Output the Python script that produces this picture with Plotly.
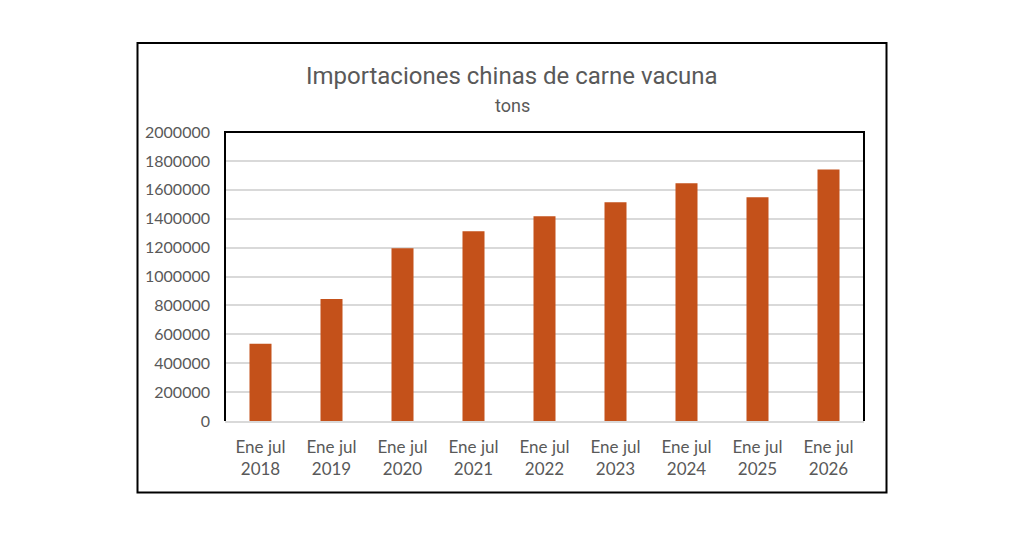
import plotly.graph_objects as go

categories = ["Ene jul<br>2018", "Ene jul<br>2019", "Ene jul<br>2020", "Ene jul<br>2021",
              "Ene jul<br>2022", "Ene jul<br>2023", "Ene jul<br>2024", "Ene jul<br>2025",
              "Ene jul<br>2026"]
values = [534000, 845000, 1196000, 1314000, 1417000, 1514000, 1645000, 1548000, 1741000]
y_ticks = [0, 200000, 400000, 600000, 800000, 1000000, 1200000, 1400000, 1600000, 1800000, 2000000]

TEXT = "#595959"
BAR = "#C4511A"
GRID = "#D9D9D9"
TICKFONT = "Lato, Open Sans, sans-serif"
TITLEFONT = "Liberation Sans Narrow, Arial Narrow, Roboto, sans-serif"

W, H = 1024, 535
OFF = 8  # page body margin
L, R, T, B = 225 - OFF, 864 - OFF, 132 - OFF, 421 - OFF
pw, ph = R - L, B - T

def px(x):
    return (x - OFF - L) / pw

def py(y):
    return (B - (y - OFF)) / ph

fig = go.Figure(go.Bar(x=categories, y=values, marker=dict(color=BAR, line=dict(width=0))))

fig.update_layout(
    width=W, height=H,
    margin=dict(l=L, r=W - R, t=T, b=H - B, pad=0),
    paper_bgcolor="white", plot_bgcolor="white",
    bargap=0.69,
    showlegend=False,
    xaxis=dict(
        showgrid=False, showline=True, linecolor=GRID, linewidth=1.5,
        ticks="", tickfont=dict(family=TICKFONT, size=17, color=TEXT),
        ticklabelstandoff=10, zeroline=False,
    ),
    yaxis=dict(
        range=[0, 2000000], tickvals=y_ticks, tickformat="d",
        showgrid=True, gridcolor=GRID, gridwidth=1.5,
        showline=False, zeroline=False, ticks="",
        tickfont=dict(family=TICKFONT, size=16, color=TEXT),
        ticklabelstandoff=14,
    ),
    annotations=[
        dict(text="Importaciones chinas de carne vacuna", x=px(512), y=py(76),
             xref="paper", yref="paper", xanchor="center", yanchor="middle",
             showarrow=False, font=dict(family=TITLEFONT, size=24, color=TEXT)),
        dict(text="tons", x=px(512), y=py(106),
             xref="paper", yref="paper", xanchor="center", yanchor="middle",
             showarrow=False, font=dict(family=TITLEFONT, size=18, color=TEXT)),
    ],
    shapes=[
        dict(type="path", xref="paper", yref="paper", path="M 0,0 L 0,1 L 1,1 L 1,0",
             line=dict(color="black", width=2)),
        dict(type="rect", xref="paper", yref="paper",
             x0=px(137.5), x1=px(886.5), y0=py(492.5), y1=py(43),
             line=dict(color="black", width=2)),
    ],
)

fig.write_html("out.html")
